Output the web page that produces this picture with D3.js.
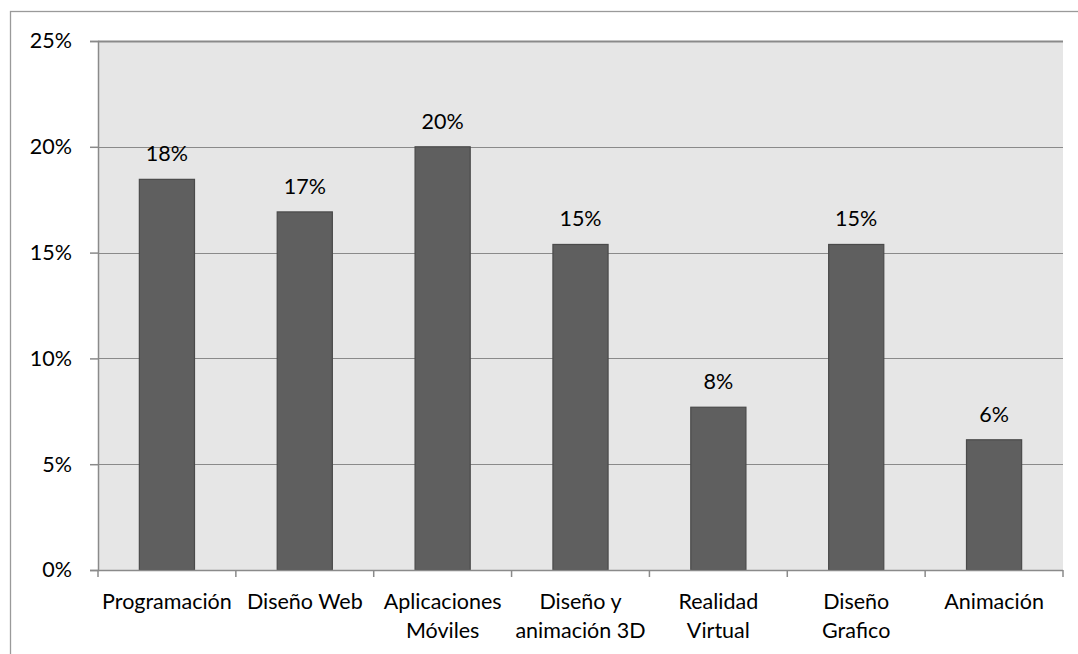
<!DOCTYPE html>
<html>
<head>
<meta charset="utf-8">
<script src="https://cdn.jsdelivr.net/npm/d3@7"></script>
<style>
  html, body { margin: 0; padding: 0; background: #fff; }
  svg { display: block; }
  text { font-family: Lato, "Open Sans", sans-serif; fill: #000; }
</style>
</head>
<body>
<svg id="chart" width="1078" height="654"></svg>
<script>
// Course interest shares (responses out of 65)
const categories = [
  "Programación", "Diseño Web", "Aplicaciones Móviles", "Diseño y animación 3D",
  "Realidad Virtual", "Diseño Grafico", "Animación"
];
const categoryLines = [
  ["Programación"], ["Diseño Web"], ["Aplicaciones", "Móviles"], ["Diseño y", "animación 3D"],
  ["Realidad", "Virtual"], ["Diseño", "Grafico"], ["Animación"]
];
const shares = [12 / 65, 11 / 65, 13 / 65, 10 / 65, 5 / 65, 10 / 65, 4 / 65];
const yTicks = [0, 0.05, 0.10, 0.15, 0.20, 0.25];

const svg = d3.select("#chart");
const plot = { left: 98, right: 1063, top: 41, bottom: 570 };
const FONT = 21.5;

// Outer chart frame
svg.append("rect")
  .attr("x", 10.5).attr("y", 11.5)
  .attr("width", 1100).attr("height", 700)
  .attr("fill", "none").attr("stroke", "#9a9a9a").attr("stroke-width", 1.3);

const x = d3.scaleBand()
  .domain(categories)
  .range([plot.left, plot.right]);
const band = x.step();

const y = d3.scaleLinear().domain([0, 0.25]).range([plot.bottom, plot.top]);

// Plot background
svg.append("rect")
  .attr("x", plot.left).attr("y", plot.top)
  .attr("width", plot.right - plot.left).attr("height", plot.bottom - plot.top)
  .attr("fill", "#e6e6e6");

// Horizontal gridlines
svg.append("g").selectAll("line")
  .data(yTicks.filter(d => d > 0))
  .join("line")
  .attr("x1", plot.left).attr("x2", plot.right)
  .attr("y1", d => Math.round(y(d)) + 0.5).attr("y2", d => Math.round(y(d)) + 0.5)
  .attr("stroke", "#8a8a8a").attr("stroke-width", d => d === 0.25 ? 2 : 1.2);

// Y axis
const yAxis = svg.append("g")
  .attr("transform", `translate(${plot.left},0)`)
  .call(d3.axisLeft(y).tickValues(yTicks).tickFormat(d3.format(".0%")).tickSize(8).tickPadding(18));
yAxis.select(".domain").attr("stroke", "#8a8a8a").attr("stroke-width", 1.5);
yAxis.selectAll(".tick line").attr("stroke", "#8a8a8a").attr("stroke-width", 1.5);
yAxis.selectAll(".tick text").attr("font-size", FONT).attr("font-family", "Lato, sans-serif").attr("fill", "#000");

// Bars
const barW = band / 2.5;
svg.append("g").selectAll("rect")
  .data(shares)
  .join("rect")
  .attr("x", (d, i) => x(categories[i]) + (band - barW) / 2)
  .attr("y", d => y(d))
  .attr("width", barW)
  .attr("height", d => y(0) - y(d))
  .attr("fill", "#5f5f5f").attr("stroke", "#4a4a4a").attr("stroke-width", 1.2);

// Value labels
svg.append("g").selectAll("text")
  .data(shares)
  .join("text")
  .attr("x", (d, i) => x(categories[i]) + band / 2)
  .attr("y", d => y(d) - 18)
  .attr("text-anchor", "middle")
  .attr("font-size", FONT)
  .text(d => d3.format(".0%")(d));

// X axis
const xg = svg.append("g");
xg.append("line")
  .attr("x1", plot.left).attr("x2", plot.right)
  .attr("y1", plot.bottom + 0.5).attr("y2", plot.bottom + 0.5)
  .attr("stroke", "#8a8a8a").attr("stroke-width", 1.5);
xg.selectAll("line.tick")
  .data(d3.range(categories.length + 1))
  .join("line").attr("class", "tick")
  .attr("x1", i => plot.left + band * i).attr("x2", i => plot.left + band * i)
  .attr("y1", plot.bottom).attr("y2", plot.bottom + 7)
  .attr("stroke", "#8a8a8a").attr("stroke-width", 1.5);

const lbl = xg.selectAll("text.cat")
  .data(categoryLines)
  .join("text").attr("class", "cat")
  .attr("text-anchor", "middle")
  .attr("font-size", FONT)
  .attr("x", (d, i) => x(categories[i]) + band / 2)
  .attr("y", plot.bottom + 39);
lbl.selectAll("tspan")
  .data(d => d)
  .join("tspan")
  .attr("x", function () { return this.parentNode.getAttribute("x"); })
  .attr("dy", (d, j) => j === 0 ? 0 : 28.5)
  .text(d => d);
</script>
</body>
</html>
